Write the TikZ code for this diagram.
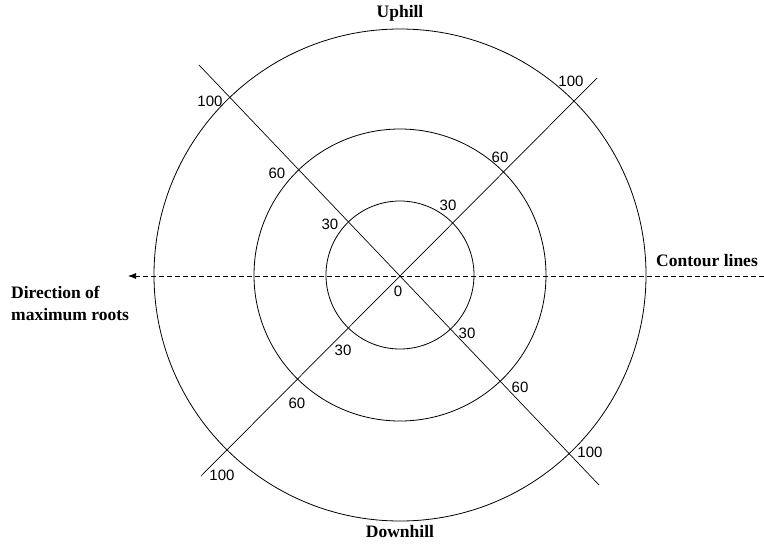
\documentclass[tikz,border=0pt]{standalone}
\usepackage{fontspec}
\setmainfont{Liberation Serif}
\newfontfamily\numfont{Liberation Sans}
\usetikzlibrary{arrows.meta}

\tikzset{
  ring/.style={draw=black, line width=0.8pt},
  axisline/.style={draw=black, line width=0.7pt},
  dist/.style={inner sep=0pt, font=\numfont\fontsize{15}{17}\selectfont},
  caption/.style={inner sep=0pt, font=\bfseries\fontsize{17.5}{22}\selectfont}
}

\begin{document}
\begin{tikzpicture}[x=1pt, y=-1pt]
  \useasboundingbox (0,0) rectangle (764,544);
  \coordinate (o) at (400,275);
  % contour rings
  \foreach \r in {74,146,246}
    \draw[ring] (o) circle[radius=\r pt];
  % the two cross lines
  \coordinate (nw) at (199,65);
  \coordinate (se) at (599,485);
  \coordinate (sw) at (201,476);
  \coordinate (ne) at (597,78);
  \draw[axisline] (nw) -- (se);
  \draw[axisline] (sw) -- (ne);
  % dashed contour line
  \coordinate (east) at (764,276);
  \coordinate (west) at (128,276);
  \draw[axisline, dashed, dash pattern=on 5pt off 3pt, -{Latex[length=8pt, width=6pt]}] (east) -- (west);
  % captions
  \node[caption] (uphill) at (400,13) {Uphill};
  \node[caption] (downhill) at (400,532) {Downhill};
  \node[caption, anchor=west] (contour) at (656,261) {Contour lines};
  \node[caption, anchor=west, align=left] (roots) at (11,303)
    {Direction of\\maximum roots};
  % distance labels
  \node[dist] (d0) at (398,291) {0};
  \node[dist] (nw30) at (330,224) {30};
  \node[dist] (nw60) at (277,173) {60};
  \node[dist] (nw100) at (210,101) {100};
  \node[dist] (ne30) at (448,205) {30};
  \node[dist] (ne60) at (500,157) {60};
  \node[dist] (ne100) at (571,81) {100};
  \node[dist] (se30) at (467,333) {30};
  \node[dist] (se60) at (520,387) {60};
  \node[dist] (se100) at (590,452) {100};
  \node[dist] (sw30) at (343,350) {30};
  \node[dist] (sw60) at (297,403) {60};
  \node[dist] (sw100) at (222,475) {100};
\end{tikzpicture}
\end{document}
